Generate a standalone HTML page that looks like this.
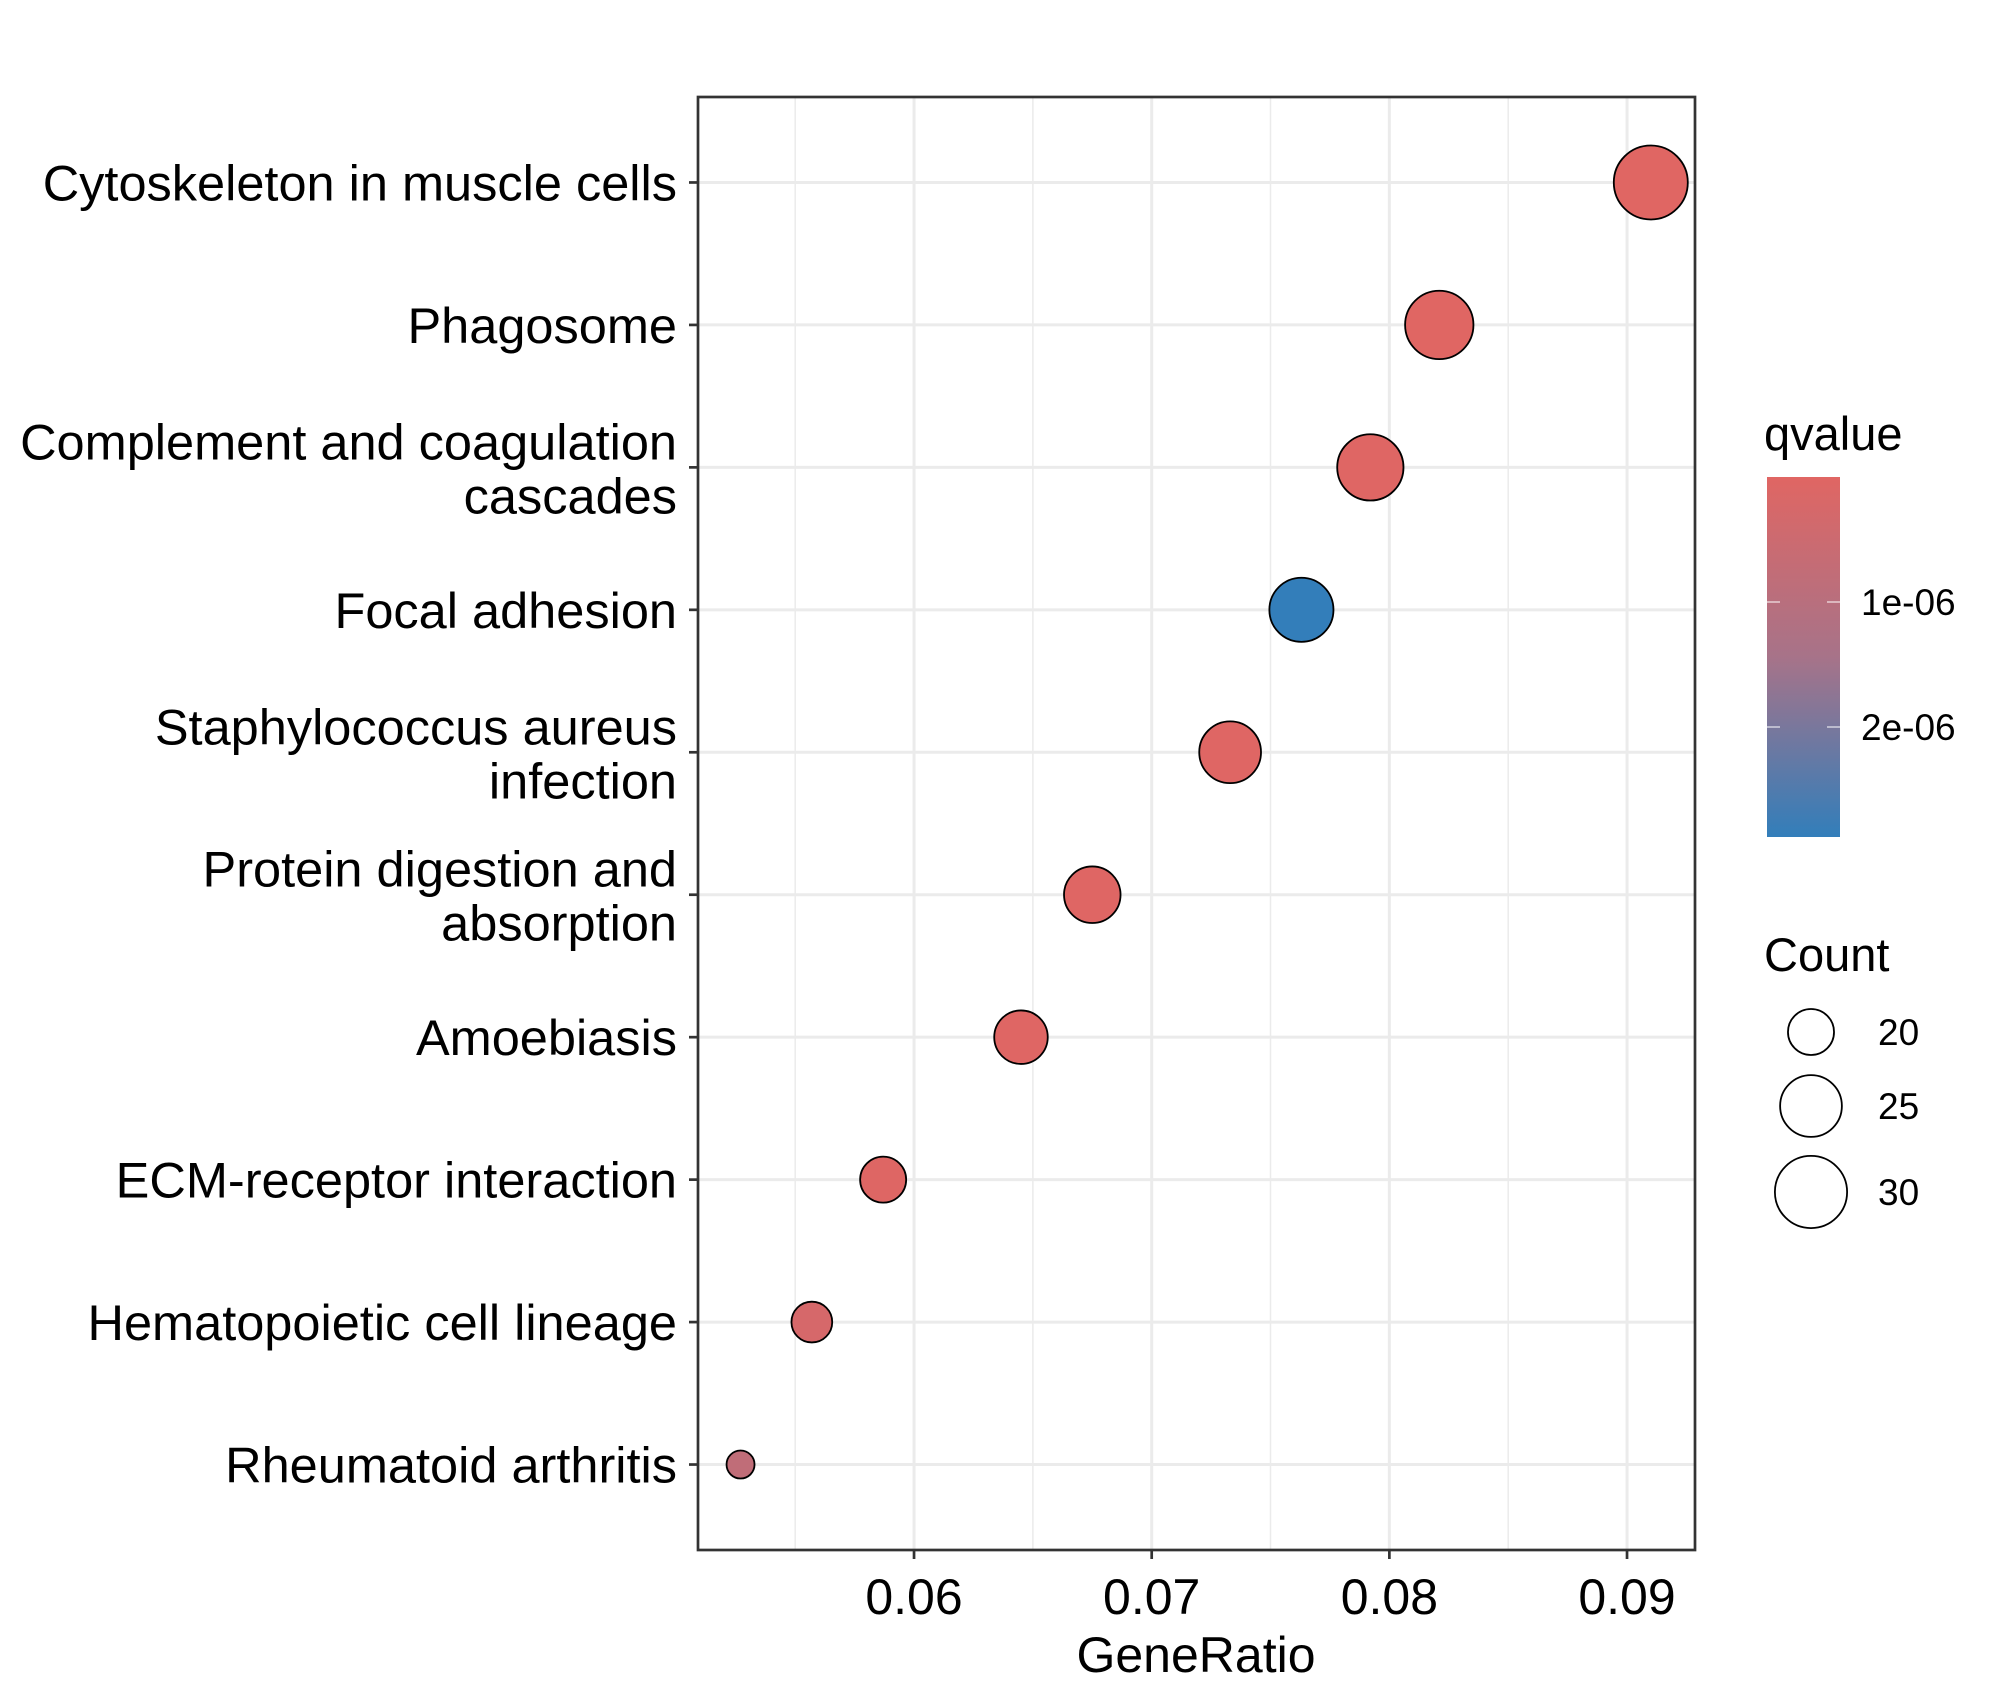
<!DOCTYPE html>
<html><head><meta charset="utf-8"><style>
html,body{margin:0;padding:0;background:#fff;}
svg{display:block;font-family:"Liberation Sans",Arial,sans-serif;}
</style></head><body>
<svg id="chart" width="2000" height="1700" viewBox="0 0 2000 1700" xmlns="http://www.w3.org/2000/svg">
<rect x="0" y="0" width="2000" height="1700" fill="#fff"/>
<defs><linearGradient id="qg" x1="0" y1="0" x2="0" y2="1">
<stop offset="0" stop-color="#e06663"/><stop offset="0.5" stop-color="#a77389"/><stop offset="1" stop-color="#327eba"/></linearGradient></defs>
<g id="grid"></g>
<g id="points"></g>
<rect x="698" y="97" width="997" height="1453" fill="none" stroke="#333" stroke-width="2.7"/>
<g id="axes"></g>
<text x="1196" y="1672" font-size="50" text-anchor="middle">GeneRatio</text>
<g>
<text x="1764" y="450" font-size="47">qvalue</text>
<rect x="1767" y="477" width="73" height="360" fill="url(#qg)"/>
<g id="cbticks"></g>
</g>
<g id="sizeleg">
<text x="1764" y="971" font-size="47">Count</text>
</g>
</svg>
<script>
const categories = ["Cytoskeleton in muscle cells","Phagosome","Complement and coagulation|cascades","Focal adhesion","Staphylococcus aureus|infection","Protein digestion and|absorption","Amoebiasis","ECM-receptor interaction","Hematopoietic cell lineage","Rheumatoid arthritis"];
const geneRatio = [0.0910,0.0821,0.0792,0.0763,0.0733,0.0675,0.0645,0.0587,0.0557,0.0527];
const counts = [31,28,27,26,25,23,22,20,19,18];
const qvalues = [0.01e-6,0.01e-6,0.02e-6,2.87e-6,0.02e-6,0.03e-6,0.03e-6,0.05e-6,0.25e-6,0.8e-6];
const xTicks = [0.06,0.07,0.08,0.09];
const xTickLabels = ["0.06","0.07","0.08","0.09"];
const xMinor = [0.055,0.065,0.075,0.085];
const qTicks = [1e-6,2e-6];
const qTickLabels = ["1e-06","2e-06"];
const sizeBreaks = [20,25,30];

const NS="http://www.w3.org/2000/svg";
const X0=698,X1=1695,Y0=97,Y1=1550;
const xDom=[0.05091,0.09286];
const x=v=>X0+(v-xDom[0])/(xDom[1]-xDom[0])*(X1-X0);
const step=(Y1-Y0)/(categories.length-1+1.2);
const y=i=>Y0+0.6*step+i*step;
const cmin=Math.min(...counts),cmax=Math.max(...counts);
const rad=c=>14+23*Math.sqrt((c-cmin)/(cmax-cmin));
const qMin=0,qMax=2.88e-6;
const qy=q=>477+(q-qMin)/(qMax-qMin)*360;
function lerp(a,b,t){return Math.round(a+(b-a)*t);}
function col(q){
  let t=Math.max(0,Math.min(1,(q-qMin)/(qMax-qMin)));
  const s=[[224,102,99],[167,115,137],[50,126,186]];
  let a,b,u; if(t<0.5){a=s[0];b=s[1];u=t*2;}else{a=s[1];b=s[2];u=(t-0.5)*2;}
  return `rgb(${lerp(a[0],b[0],u)},${lerp(a[1],b[1],u)},${lerp(a[2],b[2],u)})`;
}
function mk(tag,attrs,parent){const e=document.createElementNS(NS,tag);for(const k in attrs)e.setAttribute(k,attrs[k]);parent.appendChild(e);return e;}
const grid=document.getElementById('grid'),pts=document.getElementById('points'),axes=document.getElementById('axes');
xMinor.forEach(v=>{const l=mk('line',{x1:x(v),x2:x(v),y1:Y0,y2:Y1,stroke:'#ebebeb','stroke-width':1.5},grid);

});
xTicks.forEach((v,i)=>{const l=mk('line',{x1:x(v),x2:x(v),y1:Y0,y2:Y1,stroke:'#ebebeb','stroke-width':3},grid);


const t=mk('line',{x1:x(v),x2:x(v),y1:Y1,y2:Y1+9,stroke:'#333','stroke-width':2.7},axes);


const tx=mk('text',{x:x(v),y:1614,'font-size':50,'text-anchor':'middle',fill:'#000'},axes);tx.textContent=xTickLabels[i];

});
categories.forEach((c,i)=>{const yy=y(i);
const l=mk('line',{x1:X0,x2:X1,y1:yy,y2:yy,stroke:'#ebebeb','stroke-width':3},grid);


const t=mk('line',{x1:X0-9,x2:X0,y1:yy,y2:yy,stroke:'#333','stroke-width':2.7},axes);


const parts=c.split('|');
parts.forEach((p,j)=>{const off=parts.length===1?0:(j===0?-26:28);
const tx=mk('text',{x:677,y:yy+off+18,'font-size':50.5,'text-anchor':'end',fill:'#000'},axes);tx.textContent=p;

});
const ci=mk('circle',{cx:x(geneRatio[i]),cy:yy,r:rad(counts[i]),fill:col(qvalues[i]),stroke:'#000','stroke-width':1.8},pts);

});
const cb=document.getElementById('cbticks');
qTicks.forEach((q,i)=>{const yy=qy(q);
const a=mk('line',{x1:1767,x2:1780,y1:yy,y2:yy,stroke:'#fff','stroke-width':1},cb);


const b=mk('line',{x1:1827,x2:1840,y1:yy,y2:yy,stroke:'#fff','stroke-width':1},cb);


const t=mk('text',{x:1861,y:yy+13,'font-size':37},cb);t.textContent=qTickLabels[i];

});
const sl=document.getElementById('sizeleg');const sy=[1032,1106,1192];
sizeBreaks.forEach((s,i)=>{
const c=mk('circle',{cx:1811,cy:sy[i],r:rad(s),fill:'none',stroke:'#000','stroke-width':1.8},sl);


const t=mk('text',{x:1878,y:sy[i]+13,'font-size':37},sl);t.textContent=s;

});
</script>
</body></html>
